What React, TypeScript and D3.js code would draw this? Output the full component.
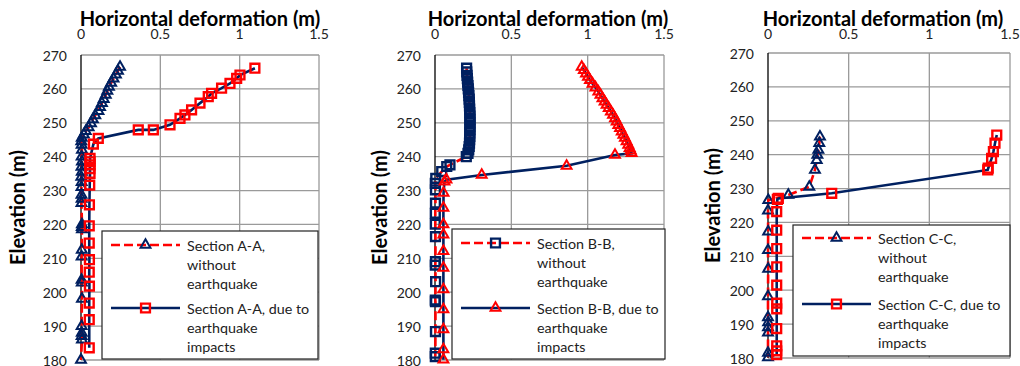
import React from "react";
import * as d3 from "d3";

// elevation (m) / horizontal deformation (m)
const aWithoutElev = [266.5, 265.3, 264.2, 263.0, 261.8, 260.6, 259.4, 258.2, 257.0, 255.8, 254.6, 253.4, 252.2, 251.0, 249.8, 248.6, 247.5, 246.5, 245.5, 244.5, 243.5, 242, 240, 238.5, 237, 235.5, 234, 232.5, 231, 228.7, 227.5, 226.3, 220, 219.2, 218.5, 212.5, 210.5, 203.6, 202.8, 198, 190, 188, 187, 186, 180];
const aWithoutDef = [0.246, 0.233, 0.22, 0.205, 0.19, 0.176, 0.166, 0.156, 0.143, 0.132, 0.12, 0.11, 0.09, 0.075, 0.063, 0.048, 0.03, 0.018, 0.005, 0.002, 0.004, 0.006, 0.004, 0.006, 0.003, 0.005, 0.002, 0.004, 0.003, 0.003, 0.004, 0.003, 0.006, 0.005, 0.006, 0.005, 0.004, 0.004, 0.005, 0.006, 0.004, 0.005, 0.004, 0.006, 0.0];
const aDueElev = [266.1, 264.1, 263.1, 261.6, 260.2, 258.7, 257.7, 255.8, 253.8, 252.3, 251.3, 249.4, 247.9, 247.9, 245.4, 243.7, 239.5, 238.5, 237.6, 236.5, 235.1, 231.6, 225.8, 219.6, 214.5, 209.6, 205.9, 201.8, 196.8, 191.9, 183.6];
const aDueDef = [1.096, 1.002, 0.981, 0.939, 0.886, 0.823, 0.802, 0.75, 0.697, 0.655, 0.624, 0.561, 0.456, 0.361, 0.109, 0.078, 0.057, 0.057, 0.057, 0.056, 0.057, 0.055, 0.053, 0.052, 0.052, 0.053, 0.052, 0.053, 0.052, 0.052, 0.052];

const bWithoutElev = [266.1, 265, 264, 263, 262, 261, 260, 259, 258, 257, 256, 255, 254, 253, 252, 251, 250, 249, 248, 247, 246, 245, 244, 243, 242, 241, 240, 237.6, 237.1, 235.6, 233.6, 232.1, 230.2, 226.3, 223.3, 220.1, 216.4, 209.0, 208.0, 203.1, 197.7, 197.2, 188.4, 182.0, 181.0];
const bWithoutDef = [0.207, 0.208, 0.21, 0.212, 0.214, 0.216, 0.218, 0.22, 0.222, 0.224, 0.225, 0.226, 0.227, 0.228, 0.229, 0.229, 0.229, 0.229, 0.229, 0.228, 0.228, 0.227, 0.226, 0.224, 0.221, 0.216, 0.205, 0.098, 0.077, 0.044, 0.005, 0.002, 0.003, 0.003, 0.002, 0.002, 0.003, 0.003, 0.002, 0.004, 0.002, 0.003, 0.003, 0.002, 0.002];
const bDueElev = [266.5, 265.5, 264.5, 263.5, 262.6, 261.5, 260.4, 259.2, 258.2, 257.2, 256.2, 255.3, 254.3, 253.3, 252.3, 251.3, 250.3, 249.3, 248.4, 247.4, 246.4, 245.5, 244.5, 243.5, 242.5, 241.8, 241.0, 240.5, 237.3, 234.6, 233.2, 232.6, 229.3, 224.9, 220.0, 217.0, 212.1, 207.2, 200.8, 194.9, 189.0, 183.1, 180.1];
const bDueDef = [0.961, 0.975, 0.989, 1.002, 1.015, 1.032, 1.051, 1.07, 1.084, 1.097, 1.111, 1.124, 1.138, 1.152, 1.166, 1.179, 1.19, 1.201, 1.212, 1.223, 1.234, 1.244, 1.255, 1.266, 1.275, 1.282, 1.288, 1.179, 0.862, 0.306, 0.075, 0.062, 0.056, 0.055, 0.055, 0.055, 0.055, 0.055, 0.055, 0.055, 0.055, 0.055, 0.055];

const cWithoutElev = [245.3, 243.4, 241.4, 239.9, 238.4, 235.5, 230.5, 228.1, 226.6, 223.5, 217.3, 211.8, 206.3, 198.2, 192, 190.5, 189, 187.5, 181.5, 180.2];
const cWithoutDef = [0.322, 0.318, 0.312, 0.306, 0.302, 0.291, 0.256, 0.126, 0.002, 0.0, 0.001, 0.0, 0.001, 0.0, 0.0, 0.001, 0.0, 0.0, 0.0, 0.0];
const cDueElev = [245.8, 243.4, 240.9, 238.9, 236.0, 235.5, 228.6, 227.1, 226.8, 223.2, 217.7, 212.3, 206.9, 201.5, 196.2, 194.5, 188.7, 183.6, 182.1, 181.0];
const cDueDef = [1.418, 1.407, 1.397, 1.386, 1.365, 1.362, 0.395, 0.064, 0.058, 0.054, 0.054, 0.054, 0.054, 0.054, 0.054, 0.054, 0.054, 0.054, 0.054, 0.054];

const xTicks = [0, 0.5, 1, 1.5];
const yTicks = [180, 190, 200, 210, 220, 230, 240, 250, 260, 270];

const NAVY = "#002060";
const RED = "#ff0000";
const FONT = "Lato, 'Open Sans', sans-serif";

const panels = [
  { section: "A-A", withoutMark: "triangle", dueMark: "square",
    without: d3.zip(aWithoutElev, aWithoutDef), due: d3.zip(aDueElev, aDueDef) },
  { section: "B-B", withoutMark: "square", dueMark: "triangle",
    without: d3.zip(bWithoutElev, bWithoutDef), due: d3.zip(bDueElev, bDueDef) },
  { section: "C-C", withoutMark: "triangle", dueMark: "square",
    without: d3.zip(cWithoutElev, cWithoutDef), due: d3.zip(cDueElev, cDueDef) },
];

// plot boxes
const boxes = [
  { left: 81, right: 319, top: 55, bottom: 360, titleX: 200, yTitleX: 17, lg: { x: 102, y: 231, w: 216, h: 128, e1: 14, e2: 77 } },
  { left: 435, right: 664, top: 55, bottom: 360, titleX: 548, yTitleX: 379, lg: { x: 452, y: 229, w: 213, h: 130, e1: 14, e2: 79 } },
  { left: 768, right: 1010, top: 53, bottom: 358, titleX: 883, yTitleX: 712, lg: { x: 793, y: 225, w: 217, h: 131, e1: 13, e2: 79 } },
];

const symPath = (kind) =>
  kind === "square"
    ? d3.symbol().type(d3.symbolSquare).size(78)()
    : d3.symbol().type(d3.symbolTriangle).size(42)();

const Marker = ({ kind, color, x, y }) => (
  <path d={symPath(kind)} transform={`translate(${x},${y})`} fill="none" stroke={color} strokeWidth={kind === "square" ? 2.4 : 2} />
);

const Panel = ({ p, b }) => {
  const x = d3.scaleLinear().domain([0, 1.5]).range([b.left, b.right]);
  const y = d3.scaleLinear().domain([180, 270]).range([b.bottom, b.top]);
  const line = d3.line().x((d) => x(d[1])).y((d) => y(d[0]));
  const lg = b.lg;
  const sx0 = lg.x + 9, sx1 = lg.x + 78, tx = lg.x + 85;
  const entries = [
    { dy: lg.e1, dash: "9 4", lineColor: RED, mark: p.withoutMark, markColor: NAVY, lines: [`Section ${p.section},`, "without", "earthquake"] },
    { dy: lg.e2, dash: null, lineColor: NAVY, mark: p.dueMark, markColor: RED, lines: [`Section ${p.section}, due to`, "earthquake", "impacts"] },
  ];
  return (
    <g fontFamily={FONT}>
      {yTicks.map((t) => (
        <line key={"h" + t} x1={b.left} x2={b.right} y1={y(t)} y2={y(t)} stroke="#9a9a9a" strokeWidth={1.3} />
      ))}
      {xTicks.slice(1).map((t) => (
        <line key={"v" + t} x1={x(t)} x2={x(t)} y1={b.top} y2={b.bottom} stroke="#9a9a9a" strokeWidth={1.3} />
      ))}
      <line x1={b.left} x2={b.left} y1={b.top} y2={b.bottom} stroke="#000" strokeWidth={1.3} />
      {yTicks.map((t) => (
        <text key={"yt" + t} x={b.left - 14} y={y(t)} dominantBaseline="central" textAnchor="end" fontSize={14} fill="#222">{t}</text>
      ))}
      {xTicks.map((t) => (
        <text key={"xt" + t} x={x(t)} y={39} textAnchor="middle" fontSize={14} fill="#222">{t}</text>
      ))}
      <text x={b.titleX} y={26} textAnchor="middle" fontSize={20} fontWeight="bold" fill="#000">Horizontal deformation (m)</text>
      <text transform={`translate(${b.yTitleX},${(b.top + b.bottom) / 2}) rotate(-90)`} textAnchor="middle" dominantBaseline="central" fontSize={20} fontWeight="bold" fill="#000">Elevation (m)</text>

      <path d={line(p.without)} fill="none" stroke={RED} strokeWidth={2.6} strokeDasharray="9 4" />
      {p.without.map((d, i) => (
        <Marker key={"w" + i} kind={p.withoutMark} color={NAVY} x={x(d[1])} y={y(d[0])} />
      ))}
      <path d={line(p.due)} fill="none" stroke={NAVY} strokeWidth={2.6} />
      {p.due.map((d, i) => (
        <Marker key={"d" + i} kind={p.dueMark} color={RED} x={x(d[1])} y={y(d[0])} />
      ))}

      <rect x={lg.x} y={lg.y} width={lg.w} height={lg.h} fill="#fff" stroke="#222" strokeWidth={1.2} />
      {entries.map((e, i) => (
        <g key={"lg" + i}>
          <line x1={sx0} x2={sx1} y1={lg.y + e.dy} y2={lg.y + e.dy} stroke={e.lineColor} strokeWidth={2.6} strokeDasharray={e.dash || undefined} />
          <Marker kind={e.mark} color={e.markColor} x={(sx0 + sx1) / 2} y={lg.y + e.dy} />
          {e.lines.map((s, j) => (
            <text key={j} x={tx} y={lg.y + e.dy + j * 19} dominantBaseline="central" fontSize={14.3} fill="#222">{s}</text>
          ))}
        </g>
      ))}
    </g>
  );
};

export default function App() {
  return (
    <svg width={1020} height={366} style={{ position: "absolute", left: 0, top: 0, background: "#fff" }}>
      {panels.map((p, i) => (
        <Panel key={p.section} p={p} b={boxes[i]} />
      ))}
    </svg>
  );
}
